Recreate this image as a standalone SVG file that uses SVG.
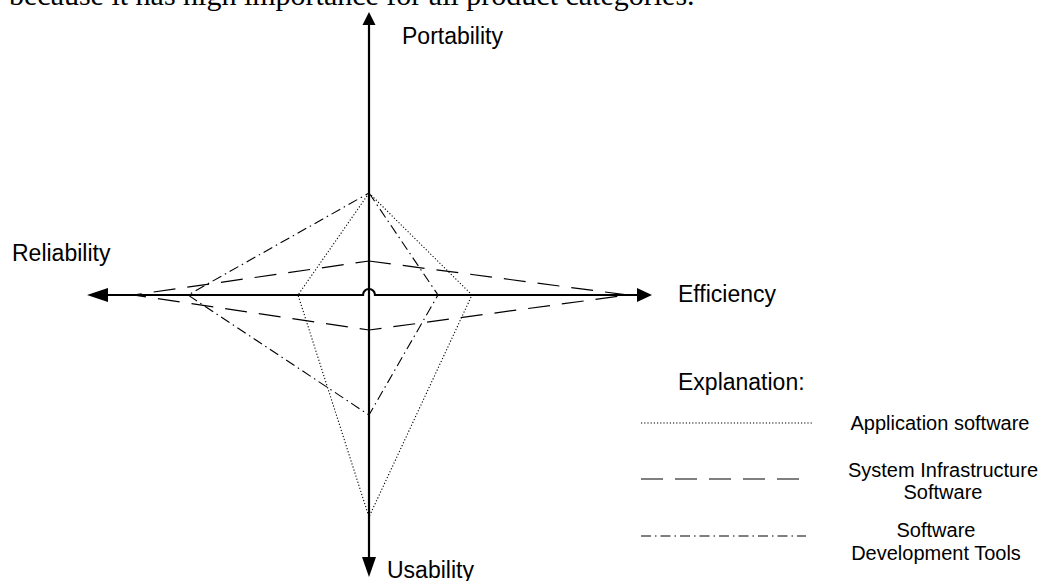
<svg xmlns="http://www.w3.org/2000/svg" width="1041" height="581" viewBox="0 0 1041 581">
<style>
.lbl{font-family:"Liberation Sans",Arial,sans-serif;font-size:23px;fill:#000}
.leg{font-family:"Liberation Sans",Arial,sans-serif;font-size:20px;fill:#000;text-anchor:middle}
.body{font-family:"Liberation Serif","Times New Roman",serif;font-size:30px;fill:#000}
.axis{stroke:#000;stroke-width:2.2;fill:none}
.head{fill:#000}
.app{stroke:#000;stroke-width:1.1;fill:none;stroke-dasharray:1.2 2}
.sys{stroke:#000;stroke-width:1.2;fill:none;stroke-dasharray:22 12}
.sdt{stroke:#000;stroke-width:1.1;fill:none;stroke-dasharray:10 4 1.5 4}
</style>
<text class="body" x="9" y="5">because it has high importance for all product categories.</text>
<g id="series">
<polygon id="application" class="app" points="369,193 472,295 369,517 298,295"/>
<polygon id="infrastructure" class="sys" points="369,261 628,295 369,330 133,295"/>
<polygon id="devtools" class="sdt" points="369,193 438,295 369,415 188,295"/>
</g>
<g id="axes">
<line class="axis" x1="369" y1="24" x2="369" y2="558"/>
<path class="axis" d="M107,295 H363 A6,6 0 0 1 375,295 H638"/>
<polygon class="head" points="369,12 362.5,25 375.5,25"/>
<polygon class="head" points="369,577 362,557 376,557"/>
<polygon class="head" points="87,295 108,288 108,302"/>
<polygon class="head" points="652,295 637,288 637,302"/>
</g>
<g id="labels">
<text class="lbl" x="402" y="44">Portability</text>
<text class="lbl" x="12" y="261">Reliability</text>
<text class="lbl" x="678" y="302">Efficiency</text>
<text class="lbl" x="387" y="578">Usability</text>
</g>
<g id="legend">
<text class="lbl" x="678" y="390">Explanation:</text>
<line class="app" x1="641" y1="423" x2="812" y2="423"/>
<text class="leg" x="940" y="430">Application software</text>
<line class="sys" x1="641" y1="479" x2="803" y2="479"/>
<text class="leg" x="943" y="477">System Infrastructure</text>
<text class="leg" x="943" y="499">Software</text>
<line class="sdt" x1="641" y1="536" x2="806" y2="536"/>
<text class="leg" x="936" y="537">Software</text>
<text class="leg" x="936" y="560">Development Tools</text>
</g>
</svg>
